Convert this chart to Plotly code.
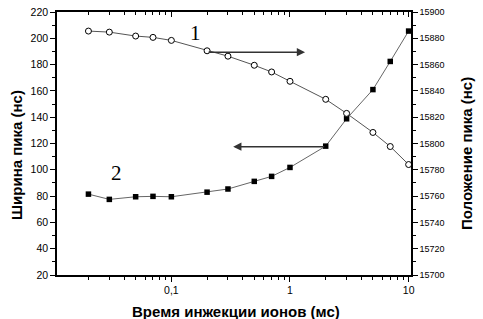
import numpy as np
import plotly.graph_objects as go

# Data
t_ms = [0.02, 0.03, 0.05, 0.07, 0.1, 0.2, 0.3, 0.5, 0.7, 1, 2, 3, 5, 7, 10]
width_ns = [81.5, 77.5, 79.5, 79.8, 79.5, 83.0, 85.4, 91.2, 95.0, 101.8, 118.0, 138.8, 161.0, 182.4, 205.5]
position_ns = [15885.5, 15884.7, 15881.7, 15880.7, 15878.4, 15870.5, 15866.4, 15859.5,
               15854.4, 15847.3, 15833.6, 15822.9, 15808.4, 15797.7, 15784.0]

x_major = [0.1, 1, 10]
x_major_text = ["0,1", "1", "10"]
x_minor = [m * d for d in (0.01, 0.1, 1) for m in range(2, 10)]

W, H = 483, 319
L, R, T, B = 57, 72, 12, 44
pw, ph = W - L - R, H - T - B
xr = [-1.964, 1.02]

def px_to_paper(px, py):
    return (px - L) / pw, (H - B - py) / ph

fig = go.Figure()
fig.add_trace(go.Scatter(x=t_ms, y=width_ns, mode="lines+markers",
                         line=dict(color="#666666", width=1),
                         marker=dict(symbol="square", size=5.5, color="black"),
                         showlegend=False, hoverinfo="skip"))
fig.add_trace(go.Scatter(x=t_ms, y=position_ns, mode="lines+markers", yaxis="y2",
                         line=dict(color="#555555", width=1),
                         marker=dict(symbol="circle", size=6, color="white",
                                     line=dict(color="black", width=1)),
                         showlegend=False, hoverinfo="skip"))
# dummy trace to activate the top axis
fig.add_trace(go.Scatter(x=[1], y=[100], xaxis="x2", mode="markers",
                         marker=dict(opacity=0), showlegend=False, hoverinfo="skip"))

tickfont = dict(family="Liberation Sans, Arial, sans-serif", size=10.5, color="black")
fig.update_layout(
    width=W, height=H, margin=dict(l=L, r=R, t=T, b=B, autoexpand=False),
    plot_bgcolor="white", paper_bgcolor="white",
    xaxis=dict(type="log", range=xr, tickvals=x_major, ticktext=x_major_text,
               ticks="outside", ticklen=5, tickwidth=1, tickcolor="black",
               showline=True, linecolor="black", linewidth=1.5, showgrid=False,
               zeroline=False, tickfont=tickfont,
               minor=dict(tickmode="array", tickvals=x_minor, ticks="outside",
                          ticklen=3, tickwidth=1, tickcolor="black", showgrid=False)),
    xaxis2=dict(type="log", range=xr, overlaying="x", side="top", anchor="y",
                tickvals=x_major, ticks="inside", ticklen=5, tickwidth=1, tickcolor="black",
                showticklabels=False, showline=True, linecolor="black", linewidth=1.5,
                showgrid=False, zeroline=False,
                minor=dict(tickmode="array", tickvals=x_minor, ticks="inside",
                           ticklen=3, tickwidth=1, tickcolor="black", showgrid=False)),
    yaxis=dict(range=[20, 220], dtick=20, ticks="outside", ticklen=5, tickwidth=1,
               tickcolor="black", showline=True, linecolor="black", linewidth=1.5,
               showgrid=False, zeroline=False, tickfont=tickfont,
               minor=dict(dtick=10, ticks="outside", ticklen=3, tickwidth=1,
                          tickcolor="black", showgrid=False)),
    yaxis2=dict(range=[15700, 15900], dtick=20, overlaying="y", side="right",
                tickformat="d",
                ticks="outside", ticklen=5, tickwidth=1, tickcolor="black",
                showline=True, linecolor="black", linewidth=1.5, showgrid=False,
                zeroline=False,
                tickfont=dict(family="Liberation Sans Narrow, Arial Narrow, Liberation Sans, sans-serif",
                              size=9, color="black"),
                minor=dict(dtick=10, ticks="outside", ticklen=3, tickwidth=1,
                           tickcolor="black", showgrid=False)),
)

titlefont = dict(family="Liberation Sans, Arial, sans-serif", size=15, color="black")
ann = []
x0, y0 = px_to_paper(16, 155)
ann.append(dict(text="<b>Ширина пика (нс)</b>", x=x0, y=y0, xref="paper", yref="paper",
                xanchor="center", yanchor="middle",
                textangle=-90, showarrow=False, font=titlefont))
x0, y0 = px_to_paper(466, 154)
ann.append(dict(text="<b>Положение пика (нс)</b>", x=x0, y=y0, xref="paper", yref="paper",
                xanchor="center", yanchor="middle",
                textangle=-90, showarrow=False, font=titlefont))
x0, y0 = px_to_paper(236, 311)
ann.append(dict(text="<b>Время инжекции ионов (мс)</b>", x=x0, y=y0, xref="paper", yref="paper",
                xanchor="center", yanchor="middle",
                showarrow=False, font=titlefont))

# series labels
serif = dict(family="Liberation Serif, Times New Roman, serif", size=21, color="black")
ann.append(dict(text="1", x=np.log10(0.161), y=204, xref="x", yref="y", showarrow=False, font=serif))
ann.append(dict(text="2", x=np.log10(0.0343), y=97.6, xref="x", yref="y", showarrow=False, font=serif))

# arrows
ann.append(dict(text="", x=np.log10(1.34), y=189.4, ax=np.log10(0.2), ay=189.4,
                xref="x", yref="y", axref="x", ayref="y", showarrow=True,
                arrowhead=2, arrowsize=1.1, arrowwidth=1.5, arrowcolor="#333333"))
ann.append(dict(text="", x=np.log10(0.332), y=117.6, ax=np.log10(2), ay=117.6,
                xref="x", yref="y", axref="x", ayref="y", showarrow=True,
                arrowhead=2, arrowsize=1.1, arrowwidth=1.5, arrowcolor="#333333"))
fig.update_layout(annotations=ann)

fig.write_html("out.html", config={"displayModeBar": False},
               post_script="document.body.style.margin='0';document.documentElement.style.overflow='hidden';")
